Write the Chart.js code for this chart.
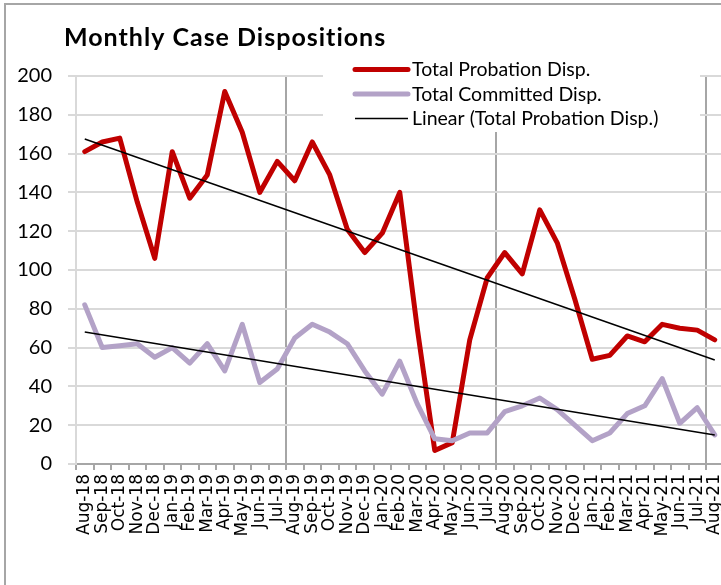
<!DOCTYPE html>
<html><head><meta charset="utf-8">
<script src="https://cdn.jsdelivr.net/npm/chart.js@4.4.0/dist/chart.umd.min.js"></script>
<style>
html,body{margin:0;padding:0;background:#fff;overflow:hidden;width:721px;height:585px;}
#wrap{position:relative;width:721px;height:585px;overflow:hidden;background:#fff;}
#c{position:absolute;left:0;top:0;}
#frame{position:absolute;left:4px;top:3px;width:800px;height:700px;border-left:2px solid #a6a6a6;border-top:2px solid #a6a6a6;pointer-events:none;}
</style></head><body>
<div id="wrap"><canvas id="c" width="740" height="585"></canvas><div id="frame"></div></div>
<script>
const categories = ['Aug-18','Sep-18','Oct-18','Nov-18','Dec-18','Jan-19','Feb-19','Mar-19','Apr-19','May-19','Jun-19','Jul-19',
  'Aug-19','Sep-19','Oct-19','Nov-19','Dec-19','Jan-20','Feb-20','Mar-20','Apr-20','May-20','Jun-20','Jul-20',
  'Aug-20','Sep-20','Oct-20','Nov-20','Dec-20','Jan-21','Feb-21','Mar-21','Apr-21','May-21','Jun-21','Jul-21','Aug-21'];
const probation = [161,166,168,135,106,161,137,149,192,171,140,156,
  146,166,149,121,109,119,140,70,7,11,64,96,
  109,98,131,114,85,54,56,66,63,72,70,69,64];
const committed = [82,60,61,62,55,60,52,62,48,72,42,49,
  65,72,68,62,48,36,53,31,13,12,16,16,
  27,30,34,28,20,12,16,26,30,44,21,29,15];
// trend line end values (first and last month)
const probationTrend = [167.5, 53.6];
const committedTrend = [68, 15];
const yTickValues = [0,20,40,60,80,100,120,140,160,180,200];
const titleText = 'Monthly Case Dispositions';
const legendLabels = ['Total Probation Disp.','Total Committed Disp.','Linear (Total Probation Disp.)'];

const RED = '#c00000', PURPLE = '#b3a2c7', BLACK = '#000000';
const first = categories[0], last = categories[categories.length-1];

const overlay = {
  id: 'overlay',
  afterDraw(chart) {
    const ctx = chart.ctx;
    ctx.save();
    // title
    ctx.fillStyle = '#000';
    ctx.font = 'bold 25px Lato';
    ctx.letterSpacing = '1px';
    ctx.textAlign = 'left';
    ctx.textBaseline = 'alphabetic';
    ctx.fillText(titleText, 64, 46);
    ctx.letterSpacing = '0px';
    // legend box
    ctx.fillStyle = '#fff';
    ctx.fillRect(323, 56, 377, 76);
    const rows = [
      {c: RED, w: 5}, {c: PURPLE, w: 5}, {c: BLACK, w: 1.5}
    ];
    rows.forEach((r, i) => {
      const y = 69.5 + i * 24.5;
      ctx.strokeStyle = r.c; ctx.lineWidth = r.w; ctx.lineCap = r.w > 2 ? 'round' : 'butt';
      ctx.beginPath(); ctx.moveTo(355, y); ctx.lineTo(408, y); ctx.stroke();
      ctx.fillStyle = '#000';
      ctx.font = '19.5px Lato';
      ctx.textBaseline = 'middle';
      ctx.fillText(legendLabels[i], 412, y + 0.5);
    });
    ctx.restore();
  }
};

new Chart(document.getElementById('c'), {
  type: 'line',
  data: {
    labels: categories,
    datasets: [
      {label: 'Linear (Total Probation Disp.)', data: [{x: first, y: probationTrend[0]}, {x: last, y: probationTrend[1]}],
        borderColor: BLACK, borderWidth: 1.5, pointRadius: 0, order: 0},
      {label: 'Linear (Total Committed Disp.)', data: [{x: first, y: committedTrend[0]}, {x: last, y: committedTrend[1]}],
        borderColor: BLACK, borderWidth: 1.5, pointRadius: 0, order: 1},
      {label: 'Total Committed Disp.', data: committed, borderColor: PURPLE, borderWidth: 5,
        pointRadius: 0, borderJoinStyle: 'round', borderCapStyle: 'round', order: 2},
      {label: 'Total Probation Disp.', data: probation, borderColor: RED, borderWidth: 5,
        pointRadius: 0, borderJoinStyle: 'round', borderCapStyle: 'round', order: 3}
    ]
  },
  options: {
    responsive: false,
    animation: false,
    devicePixelRatio: 1,
    layout: {padding: {left: 0, right: 16.5, top: 76, bottom: 0}},
    plugins: {legend: {display: false}, title: {display: false}, tooltip: {enabled: false}},
    elements: {line: {tension: 0}},
    scales: {
      x: {
        type: 'category',
        offset: true,
        grid: {
          offset: true,
          color: (c) => (c.index > 0 && c.index % 12 === 0) ? '#a6a6a6' : 'rgba(0,0,0,0)',
          tickColor: '#a6a6a6',
          lineWidth: 2,
          tickWidth: 2,
          tickLength: 6
        },
        border: {color: '#a6a6a6', width: 2},
        ticks: {
          autoSkip: false, minRotation: 90, maxRotation: 90, padding: 4,
          color: '#000', font: {family: 'DejaVu Sans', size: 17}
        },
        afterFit: (s) => { s.height = 121; }
      },
      y: {
        min: 0, max: 200,
        afterBuildTicks: (s) => { s.ticks = yTickValues.map(v => ({value: v})); },
        grid: {color: '#d9d9d9', lineWidth: 2, tickLength: 8},
        border: {color: '#d9d9d9', width: 2},
        ticks: {padding: 16, color: '#000', font: {family: 'Lato', size: 20}},
        afterFit: (s) => { s.width = 76; }
      }
    }
  },
  plugins: [overlay]
});
</script>
</body></html>
